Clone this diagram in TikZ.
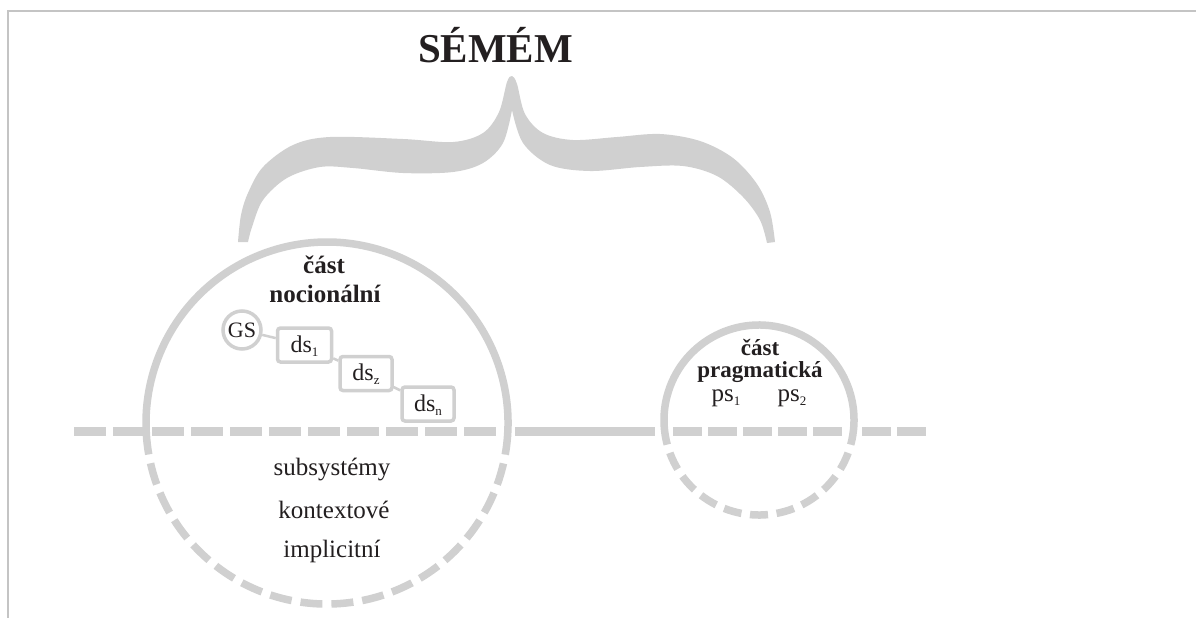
\documentclass[tikz,border=0pt]{standalone}
\usepackage{fontspec}
\setmainfont{Liberation Serif}
\definecolor{lg}{HTML}{D0D0D0}
\definecolor{ink}{HTML}{231F20}
\definecolor{framec}{HTML}{C4C4C4}
\newcommand\myfs[1]{\fontsize{#1}{#1}\selectfont}
\newcommand\lowsub[1]{\raisebox{-4pt}{\myfs{13}#1}}
\begin{document}
\begin{tikzpicture}[x=1pt,y=-1pt,
  hline/.style={draw=lg, line width=8.5pt},
  ring/.style={draw=lg, line width=7.5pt},
  boxnode/.style={draw=lg, line width=3.5pt, rounded corners=3pt, minimum width=52pt, minimum height=34pt, inner sep=0pt, text=ink, font=\myfs{24}, text height=18pt, text depth=4pt},
  gsnode/.style={circle, draw=lg, line width=3.5pt, minimum size=38pt, inner sep=0pt, text=ink, font=\myfs{22}, text height=18pt, text depth=4pt},
  link/.style={draw=lg, line width=2.5pt},
  lab/.style={anchor=base, text=ink, inner sep=0pt}]
\useasboundingbox (0,0) rectangle (1196,618);
\fill[white] (0,0) rectangle (1196,618);
% frame
\draw[framec, line width=1.5pt] (8,618) -- (8,11) -- (1196,11);
% brace
\fill[lg] plot[smooth, tension=0.55] coordinates {(238,242) (241,215) (248,193) (263,167) (293,145) (330,137) (403,139) (453,142) (483,133) (499,112) (507,82) (512,76) (517,84) (525,114) (543,133) (573,140) (617,137) (660,134) (700,141) (733,158) (757,184) (770,212) (775,242)}
 -- plot[smooth, tension=0.55] coordinates {(767,243) (760,220) (743,197) (717,176) (683,166) (640,167) (590,171) (550,165) (523,143) (512,110)}
 -- plot[smooth, tension=0.55] coordinates {(512,110) (503,143) (483,163) (453,172) (403,173) (353,168) (320,167) (287,178) (263,200) (252,227) (248,242)} -- cycle;
% circles
\coordinate (cA) at (327,423);
\coordinate (cB) at (759,420);
\draw[ring] (cA) ++(-10:181pt) arc[start angle=-10, end angle=190, radius=181pt];
\draw[ring, dash pattern=on 22pt off 9.02pt, dash phase=22pt] (cA) ++(190:181pt) arc[start angle=190, end angle=350, radius=181pt];
\draw[ring] (cB) ++(-15:95pt) arc[start angle=-15, end angle=195, radius=95pt];
\draw[ring, dash pattern=on 18pt off 8.67pt, dash phase=18pt] (cB) ++(195:95pt) arc[start angle=195, end angle=345, radius=95pt];
% horizontal line
\coordinate (h1) at (74,431.5);
\coordinate (h2) at (500,431.5);
\coordinate (h3) at (515,431.5);
\coordinate (h4) at (655,431.5);
\coordinate (h5) at (673,431.5);
\coordinate (h6) at (843,431.5);
\coordinate (h7) at (862,431.5);
\coordinate (h8) at (926,431.5);
\draw[hline, dash pattern=on 32pt off 7pt] (h1) -- (h2);
\draw[hline] (h3) -- (h4);
\draw[hline, dash pattern=on 29pt off 6pt] (h5) -- (h6);
\draw[hline, dash pattern=on 29pt off 6pt] (h7) -- (h8);
% chain
\node[gsnode] (gs) at (242,330) {GS};
\node[boxnode, minimum width=54pt] (ds1) at (304.5,345) {ds\lowsub{1}};
\node[boxnode] (dsz) at (366,373.5) {ds\lowsub{z}};
\node[boxnode] (dsn) at (428,404) {ds\lowsub{n}};
\draw[link] (gs) -- (ds1);
\draw[link] (ds1) -- (dsz);
\draw[link] (dsz) -- (dsn);
% labels
\node[lab, font=\myfs{41}\bfseries] (title) at (495.5,63) {SÉMÉM};
\node[lab, font=\myfs{25}\bfseries] (nA1) at (324,273) {část};
\node[lab, font=\myfs{25}\bfseries] (nA2) at (325,302) {nocionální};
\node[lab, font=\myfs{23}\bfseries] (nB1) at (760,355) {část};
\node[lab, font=\myfs{23}\bfseries] (nB2) at (760,377) {pragmatická};
\node[lab, font=\myfs{25}] (ps1) at (726,401) {ps\lowsub{1}};
\node[lab, font=\myfs{25}] (ps2) at (792,401) {ps\lowsub{2}};
\node[lab, font=\myfs{25}] (t1) at (332,475) {subsystémy};
\node[lab, font=\myfs{25}] (t2) at (334,518) {kontextové};
\node[lab, font=\myfs{25}] (t3) at (332,557) {implicitní};
\end{tikzpicture}
\end{document}
